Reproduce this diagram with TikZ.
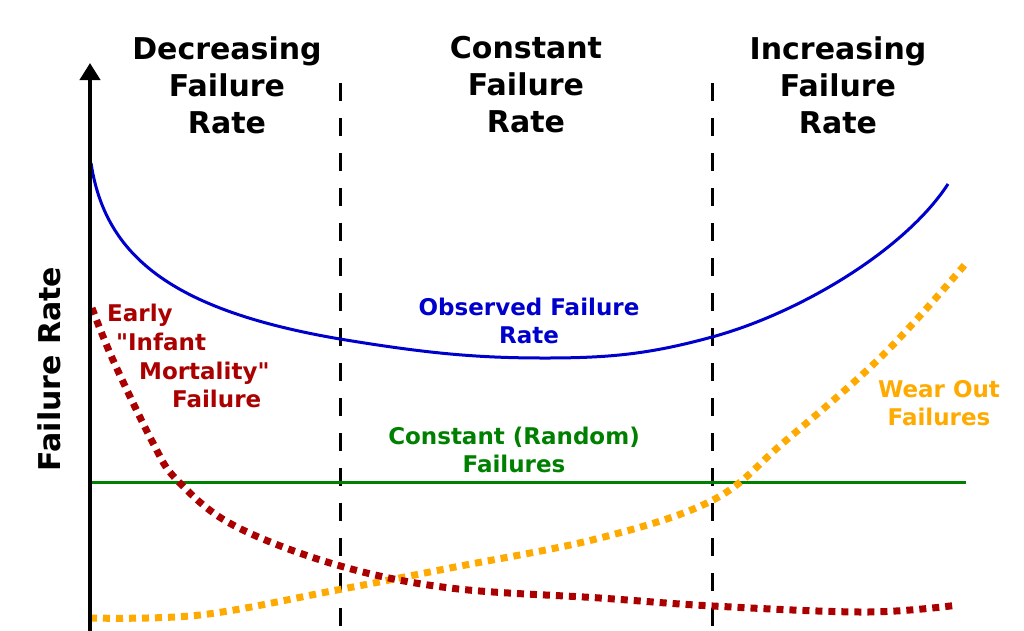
\documentclass[tikz,border=0pt]{standalone}
\usepackage{fontspec}
\setmainfont{DejaVu Sans}
\usetikzlibrary{arrows.meta}
\definecolor{obsblue}{HTML}{0000CC}
\definecolor{infred}{HTML}{AA0000}
\definecolor{randgreen}{HTML}{008000}
\definecolor{wearorange}{HTML}{FFAA00}
\begin{document}
\begin{tikzpicture}[x=1pt,y=-1pt,
  title/.style={font=\fontsize{30}{37}\selectfont\bfseries, align=center, inner sep=0pt},
  lbl/.style={font=\fontsize{23}{28.7}\selectfont\bfseries, align=center, inner sep=0pt},
  divider/.style={line width=3pt, dash pattern=on 18pt off 17pt},
  dotcurve/.style={line width=7pt, dash pattern=on 7pt off 6pt, line cap=butt},
]
\useasboundingbox (0,0) rectangle (1024,630);
% dividers
\coordinate (d1t) at (340,83); \coordinate (d1b) at (340,632);
\coordinate (d2t) at (712,83); \coordinate (d2b) at (712,632);
\draw[divider] (d1t) -- (d1b);
\draw[divider] (d2t) -- (d2b);
% green constant line
\coordinate (g1) at (92,482); \coordinate (g2) at (966,482);
\draw[randgreen, line width=3pt] (g1) -- (g2);
% orange wear-out
\draw[wearorange, dotcurve] plot[smooth, tension=0.6] coordinates {
 (90,618) (200,615) (337,590) (450,568) (600,538) (713,500) (783,443) (883,355) (968,261)};
% red infant mortality
\draw[infred, dotcurve] plot[smooth, tension=0.6] coordinates {
 (92,308) (113,360) (153,443) (177,480) (233,525) (337,565) (450,588) (600,598) (713,606) (867,612) (958,605)};
% blue observed
\coordinate (b0) at (91,163);
\coordinate (b1) at (340,339);
\coordinate (b2) at (545,358);
\coordinate (b3) at (712,337);
\coordinate (b4) at (948,184);
\draw[obsblue, line width=3pt] (b0) .. controls (105,255) and (170,310) .. (b1)
  .. controls (430,354) and (480,358) .. (b2)
  .. controls (610,358) and (650,354) .. (b3)
  .. controls (800,313) and (905,250) .. (b4);
% axis
\coordinate (ab) at (90,632); \coordinate (at) at (90,63);
\draw[line width=4pt, -{Triangle[width=20pt,length=17pt]}] (ab) -- (at);
% titles
\node[title] (t1) at (227,85) {Decreasing\\Failure\\Rate};
\node[title] (t2) at (526,85) {Constant\\Failure\\Rate};
\node[title] (t3) at (838,85) {Increasing\\Failure\\Rate};
\node[title, rotate=90] (yl) at (49,369) {Failure Rate};
% labels
\node[lbl, obsblue] (lo) at (529,321) {Observed Failure\\Rate};
\node[lbl, randgreen] (lc) at (514,450) {Constant (Random)\\Failures};
\node[lbl, wearorange] (lw) at (939,403) {Wear Out\\Failures};
\node[lbl, infred, align=left, anchor=north west] (li) at (107,304) {Early\\\hspace*{9pt}\textquotedbl Infant\\\hspace*{32pt}Mortality\textquotedbl\\\hspace*{65pt}Failure};
\end{tikzpicture}
\end{document}
